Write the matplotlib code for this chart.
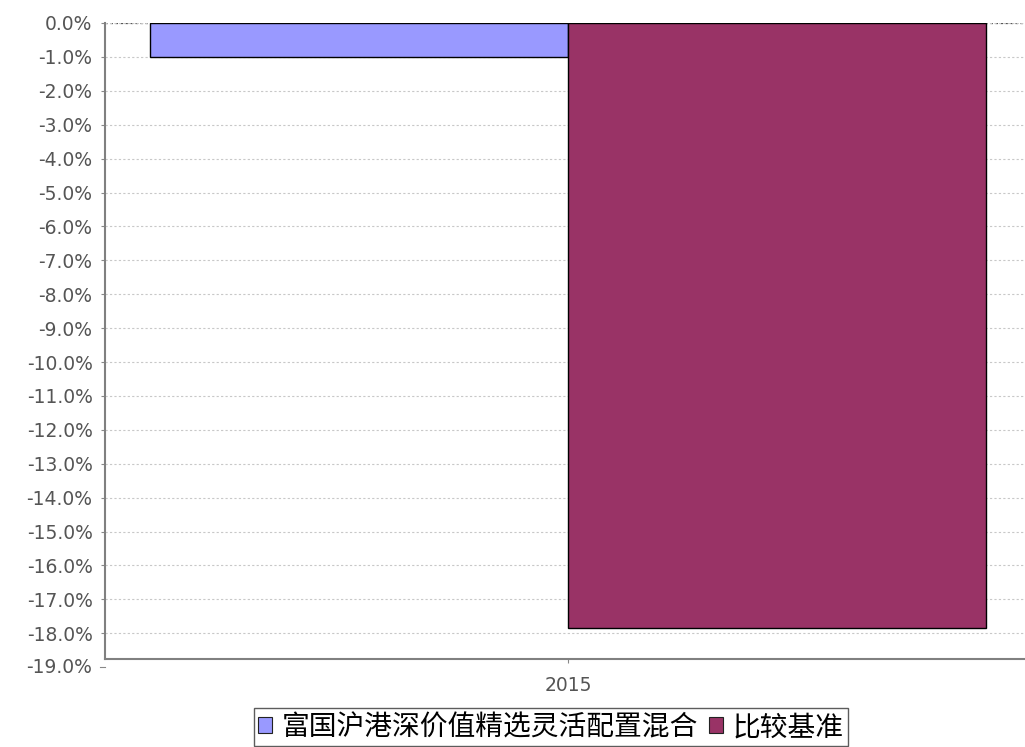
import matplotlib
matplotlib.use("Agg")
import matplotlib.pyplot as plt
import matplotlib.transforms as mtransforms
from matplotlib.patches import Patch

plt.rcParams["font.family"] = ["DejaVu Sans", "Noto Sans CJK SC"]

# ── Data ────────────────────────────────────────────────────────────────────
CATEGORIES = ["2015"]
SERIES_NAMES = ["富国沪港深价值精选灵活配置混合", "比较基准"]
FUND_RETURNS = [-1.0]
BENCH_RETURNS = [-17.85]
Y_TICKS = [-float(i) for i in range(0, 20)]

COLORS = ["#9999ff", "#993366"]
TICK_COLOR = "#555555"
TICK_SIZE = 13.5


def pct(v):
    return "0.0%" if v == 0 else f"{v:.1f}%"


fig = plt.figure(figsize=(10.25, 7.47), dpi=100)
ax = fig.add_axes([105 / 1025, 1 - 659 / 747, 926 / 1025, (659 - 23) / 747])

x = list(range(len(CATEGORIES)))
w = 0.5
ax.bar([i - w / 2 for i in x], FUND_RETURNS, width=w, color=COLORS[0],
       edgecolor="#000000", linewidth=1.0, zorder=3)
ax.bar([i + w / 2 for i in x], BENCH_RETURNS, width=w, color=COLORS[1],
       edgecolor="#000000", linewidth=1.0, zorder=3)

ax.set_xlim(-0.5538, 0.5538)
ax.set_ylim(-18.76, 0)
ax.set_xticks(x)
ax.set_xticklabels(CATEGORIES)
shown = [t for t in Y_TICKS if t >= -18.76]
ax.set_yticks(shown)
ax.set_yticklabels([pct(t) for t in shown])

ax.grid(axis="y", color="#c8c8c8", linestyle=(0, (2, 2)), linewidth=0.8, zorder=0)
ax.axhline(0, color="#555555", linestyle=(0, (2, 2)), linewidth=0.9, zorder=1)

for side in ("top", "right"):
    ax.spines[side].set_visible(False)
for side in ("left", "bottom"):
    ax.spines[side].set_color("#808080")
    ax.spines[side].set_linewidth(1.5)

ax.tick_params(axis="y", colors="#888888", labelcolor=TICK_COLOR,
               labelsize=TICK_SIZE, length=3, pad=6)
ax.tick_params(axis="x", colors="#888888", labelcolor=TICK_COLOR,
               labelsize=TICK_SIZE, length=3, pad=9)

# the lowest tick sits below the axis end, as in the original
trans = mtransforms.blended_transform_factory(ax.transAxes, ax.transData)
ax.plot([-5 / 926, 0], [Y_TICKS[-1], Y_TICKS[-1]], transform=trans,
        color="#888888", linewidth=0.8, clip_on=False)
ax.annotate(pct(Y_TICKS[-1]), xy=(0, Y_TICKS[-1]), xycoords=trans,
            xytext=(-9.4, 0), textcoords="offset points", ha="right",
            va="center", fontsize=TICK_SIZE, color=TICK_COLOR,
            annotation_clip=False)

handles = [Patch(facecolor=c, edgecolor="#222222", linewidth=0.8) for c in COLORS]
leg = fig.legend(handles, SERIES_NAMES, loc="center",
                 bbox_to_anchor=(551 / 1025, 1 - 727 / 747), ncol=2,
                 prop={"family": ["Noto Sans CJK SC"], "size": 20},
                 frameon=True, fancybox=False, handlelength=0.5, handleheight=0.5,
                 handletextpad=0.35, columnspacing=0.4, borderpad=0.15,
                 borderaxespad=0)
leg.get_frame().set_edgecolor("#333333")
leg.get_frame().set_linewidth(1.0)

fig.savefig("out.png", dpi=100)
